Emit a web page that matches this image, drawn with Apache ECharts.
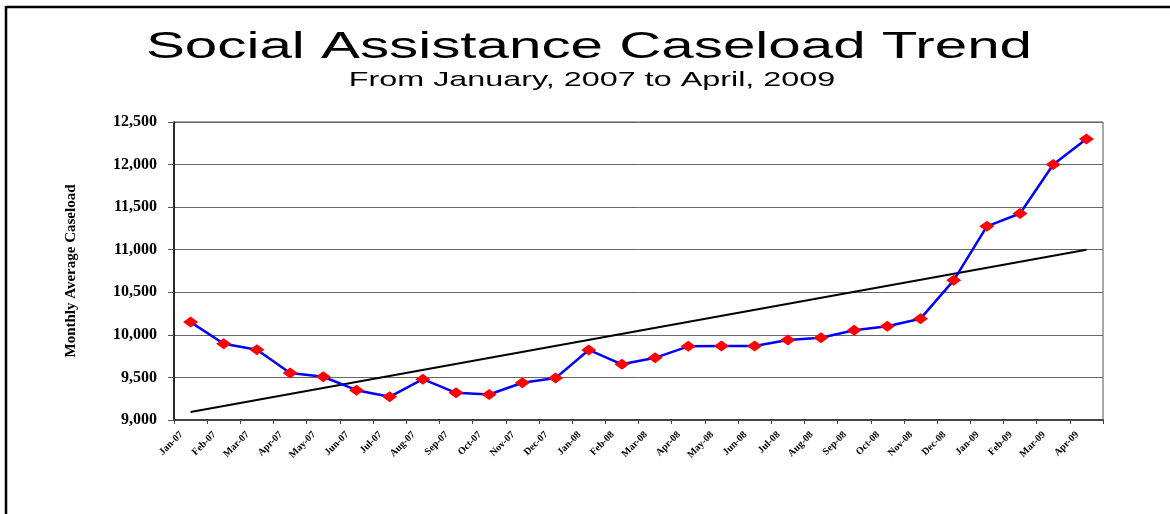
<!DOCTYPE html>
<html>
<head>
<meta charset="utf-8">
<script src="https://cdn.jsdelivr.net/npm/echarts@6/dist/echarts.min.js"></script>
<style>
html,body{margin:0;padding:0;background:#fff;}
#chart{width:1170px;height:514px;}
</style>
</head>
<body>
<div id="chart"></div>
<script>
var months = ['Jan-07','Feb-07','Mar-07','Apr-07','May-07','Jun-07','Jul-07','Aug-07','Sep-07','Oct-07','Nov-07','Dec-07',
              'Jan-08','Feb-08','Mar-08','Apr-08','May-08','Jun-08','Jul-08','Aug-08','Sep-08','Oct-08','Nov-08','Dec-08',
              'Jan-09','Feb-09','Mar-09','Apr-09'];
var caseload = [10150, 9895, 9825, 9551, 9508, 9350, 9272, 9480, 9319, 9299, 9437, 9492,
                9823, 9654, 9730, 9865, 9870, 9870, 9940, 9965, 10055, 10100, 10190, 10640,
                11275, 11425, 12000, 12300];
// trend line read at its two ends (straight line between them)
var trend = [9095, null, null, null, null, null, null, null, null, null, null, null,
             null, null, null, null, null, null, null, null, null, null, null, null,
             null, null, null, 11000];
var titleText = 'Social Assistance Caseload Trend';
var subtitleText = 'From January, 2007 to April, 2009';
var yAxisName = 'Monthly Average Caseload';

function commas(v){ return String(v).replace(/\B(?=(\d{3})+(?!\d))/g, ','); }

var chart = echarts.init(document.getElementById('chart'));
chart.setOption({
  backgroundColor: '#ffffff',
  animation: false,
  graphic: [
    { type: 'line', shape: { x1: 6, y1: 7, x2: 1170, y2: 7 }, style: { stroke: '#000', lineWidth: 2.5 } },
    { type: 'line', shape: { x1: 6, y1: 6, x2: 6, y2: 514 }, style: { stroke: '#000', lineWidth: 2.5 } },
    { type: 'text', x: 589, y: 48, scaleX: 1.62, scaleY: 1,
      style: { text: titleText, fill: '#000', font: '36px "Liberation Sans", Arial, sans-serif',
               textAlign: 'center', textVerticalAlign: 'middle' } },
    { type: 'text', x: 592, y: 80, scaleX: 1.54, scaleY: 1,
      style: { text: subtitleText, fill: '#000', font: '21px "Liberation Sans", Arial, sans-serif',
               textAlign: 'center', textVerticalAlign: 'middle' } }
  ],
  grid: { left: 174, right: 67, top: 122, bottom: 94, show: true, borderColor: '#555', borderWidth: 1 },
  xAxis: {
    type: 'category',
    data: months,
    boundaryGap: true,
    axisLine: { lineStyle: { color: '#444', width: 2 } },
    axisTick: { show: true, interval: 0, length: 4, lineStyle: { color: '#444', width: 1 } },
    axisLabel: { interval: 0, rotate: 45, margin: 4, padding: [0, 13, 0, 0], color: '#000', fontSize: 10, fontWeight: 'bold',
                 fontFamily: '"Liberation Serif", "Times New Roman", serif' },
    splitLine: { show: false }
  },
  yAxis: {
    type: 'value',
    min: 9000, max: 12500, interval: 500,
    name: yAxisName,
    nameLocation: 'middle',
    nameGap: 95,
    nameRotate: 90,
    nameTextStyle: { color: '#000', fontSize: 15, fontWeight: 'bold',
                     fontFamily: '"Liberation Serif", "Times New Roman", serif' },
    axisLine: { show: true, lineStyle: { color: '#000', width: 1.5 } },
    axisTick: { show: true, length: 6, lineStyle: { color: '#555' } },
    axisLabel: { margin: 17, color: '#000', fontSize: 16, fontWeight: 'bold',
                 fontFamily: '"Liberation Serif", "Times New Roman", serif',
                 formatter: function(v){ return commas(v); } },
    splitLine: { show: true, lineStyle: { color: '#666', width: 1 } }
  },
  series: [
    { type: 'line', data: trend, connectNulls: true, symbol: 'none',
      lineStyle: { color: '#000', width: 2 }, z: 2 },
    { type: 'line', data: caseload, symbol: 'diamond', symbolSize: [15, 11],
      itemStyle: { color: '#ff0000' },
      lineStyle: { color: '#0000ff', width: 2.5 }, z: 3 }
  ]
});
</script>
</body>
</html>
